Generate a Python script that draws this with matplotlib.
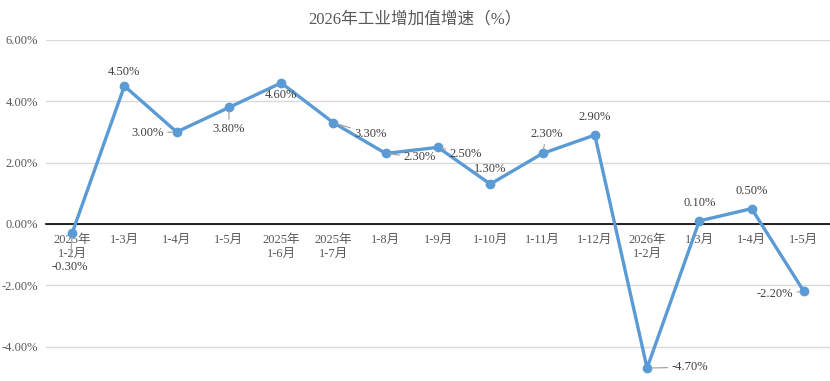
import matplotlib
matplotlib.use("Agg")
import matplotlib.pyplot as plt
from matplotlib.ticker import FuncFormatter

plt.rcParams['font.family'] = ['Liberation Serif', 'Noto Sans CJK SC', 'DejaVu Sans']

title = "2026年工业增加值增速（%）"
categories = ["2025年\n1-2月", "1-3月", "1-4月", "1-5月", "2025年\n1-6月", "2025年\n1-7月",
              "1-8月", "1-9月", "1-10月", "1-11月", "1-12月", "2026年\n1-2月",
              "1-3月", "1-4月", "1-5月"]
values = [-0.30, 4.50, 3.00, 3.80, 4.60, 3.30, 2.30, 2.50, 1.30, 2.30, 2.90, -4.70, 0.10, 0.50, -2.20]
yticks = [-4, -2, 0, 2, 4, 6]

# label offsets in pixels (dx, dy) and whether a leader line is drawn
label_style = [(-2, -34, True), (0, 14, False), (-29, -1, True), (0, -22, True), (0, -12, False),
               (37, -11, True), (34, -4, True), (28, -7, True), (0, 15, False), (4, 19, True),
               (0, 18, False), (43, 1, True), (0, 18, False), (0, 18, False), (-29, -3, True)]

fig = plt.figure(figsize=(8.3, 3.81), dpi=100)
ax = fig.add_axes([46/830, 1-378.5/381, 1-46/830, (378.5-40)/381])

x = list(range(len(categories)))
ax.plot(x, values, color='#5B9BD5', lw=2.4, marker='o', ms=6, zorder=3, solid_joinstyle='round')

ax.set_xlim(-0.5, len(categories)-0.5)
ax.set_ylim(-5.04, 6)
ax.set_yticks(yticks)
ax.yaxis.set_major_formatter(FuncFormatter(lambda v, p: f"{v:.2f}%"))
ax.grid(axis='y', color='#D9D9D9', lw=1)
ax.set_axisbelow(True)
for s in ['top', 'right', 'left']:
    ax.spines[s].set_visible(False)
ax.spines['bottom'].set_position(('data', 0))
ax.spines['bottom'].set_color('black')
ax.spines['bottom'].set_linewidth(1.2)
ax.spines['bottom'].set_zorder(2)
ax.set_xticks(x)
ax.set_xticklabels(categories, linespacing=1.3)
ax.tick_params(axis='x', length=0, pad=7, labelsize=9, labelcolor='#595959')
ax.tick_params(axis='y', length=0, pad=6, labelsize=9, labelcolor='#595959')

for i, v in enumerate(values):
    dx, dy, lead = label_style[i]
    kw = {}
    if lead:
        kw['arrowprops'] = dict(arrowstyle='-', color='#A6A6A6', lw=0.9, shrinkA=1, shrinkB=3)
    ax.annotate(f"{v:.2f}%", (i, v), xytext=(dx*0.72, dy*0.72), textcoords='offset points',
                ha='center', va='center', fontsize=9, color='#404040', zorder=4, **kw)

fig.text(0.5, 1-19/381, title, ha='center', va='center', fontsize=12, color='#595959')

fig.savefig("out.png", dpi=100)
